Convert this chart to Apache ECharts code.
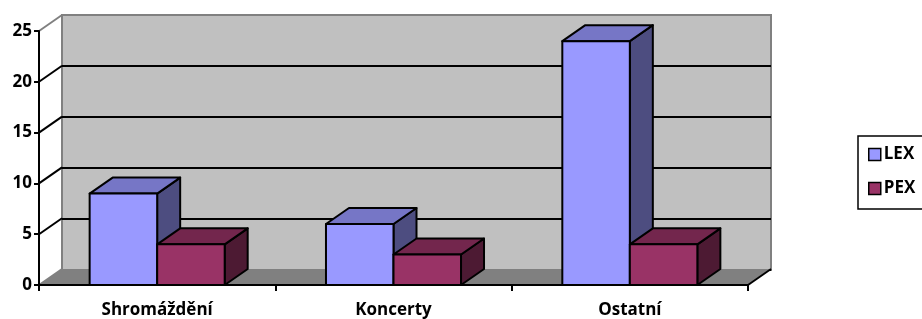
<!DOCTYPE html>
<html>
<head>
<meta charset="utf-8">
<script src="https://cdn.jsdelivr.net/npm/echarts@6/dist/echarts.min.js"></script>
<style>
html,body{margin:0;padding:0;background:#fff;}
#chart{width:922px;height:319px;}
</style>
</head>
<body>
<div id="chart"></div>
<script>
const categories = ['Shromáždění', 'Koncerty', 'Ostatní'];
const seriesNames = ['LEX', 'PEX'];
const lexValues = [9, 6, 24];
const pexValues = [4, 3, 4];
const yTicks = [0, 5, 10, 15, 20, 25];

const FONT = '"Open Sans", Lato, sans-serif';
const DX = 23, DY = 16;
const faceColors = {
  LEX: { front: '#9999FF', top: '#7676C6', side: '#4D4D80' },
  PEX: { front: '#993366', top: '#73264D', side: '#4D1A33' }
};

function barRender(sIdx, name) {
  return function (params, api) {
    const i = api.value(0);
    const v = api.value(1);
    const base = api.coord([i, 0]);
    const topPt = api.coord([i, v]);
    const cw = api.size([1, 0])[0];
    const w = cw * 0.2857;
    const x0 = base[0] - w + sIdx * w;
    const yT = topPt[1], yB = base[1];
    const c = faceColors[name];
    const st = { stroke: '#000', lineWidth: 2, lineJoin: 'round' };
    return {
      type: 'group',
      children: [
        { type: 'polygon', shape: { points: [[x0 + w, yT], [x0 + w + DX, yT - DY], [x0 + w + DX, yB - DY], [x0 + w, yB]] },
          style: Object.assign({ fill: c.side }, st) },
        { type: 'polygon', shape: { points: [[x0, yT], [x0 + DX, yT - DY], [x0 + w + DX, yT - DY], [x0 + w, yT]] },
          style: Object.assign({ fill: c.top }, st) },
        { type: 'rect', shape: { x: x0, y: yT, width: w, height: yB - yT },
          style: Object.assign({ fill: c.front }, st) }
      ]
    };
  };
}

function frameRender(params, api) {
  const cs = params.coordSys;
  const x = cs.x, y = cs.y, W = cs.width, H = cs.height;
  const yB = y + H;
  const children = [];
  children.push({ type: 'polygon', shape: { points: [[x, yB], [x + W, yB], [x + W + DX, yB - DY], [x + DX, yB - DY]] },
    style: { fill: '#808080', stroke: null } });
  children.push({ type: 'line', shape: { x1: x + W, y1: yB, x2: x + W + DX, y2: yB - DY },
    style: { stroke: '#000', lineWidth: 2 } });
  children.push({ type: 'line', shape: { x1: x, y1: yB, x2: x + DX, y2: yB - DY },
    style: { stroke: '#808080', lineWidth: 2 } });
  yTicks.forEach(function (t, k) {
    if (t === 0) return;
    const p = api.coord([0, t]);
    const last = k === yTicks.length - 1;
    children.push({ type: 'line', shape: { x1: x, y1: p[1], x2: x + DX, y2: p[1] - DY },
      style: { stroke: last ? '#808080' : '#000', lineWidth: 2 } });
  });
  return { type: 'group', children: children };
}

const chart = echarts.init(document.getElementById('chart'), null, { renderer: 'canvas' });
chart.setOption({
  animation: false,
  backgroundColor: '#ffffff',
  color: ['#9999FF', '#993366'],
  grid: [
    { left: 39, right: 174, top: 31, bottom: 33, show: false },
    { left: 39 + DX, right: 174 - DX, top: 31 - DY, bottom: 33 + DY, show: true,
      backgroundColor: '#C0C0C0', borderColor: '#808080', borderWidth: 2, z: 0 }
  ],
  xAxis: [
    { type: 'category', gridIndex: 0, data: categories, boundaryGap: true, z: 5,
      axisLine: { show: true, lineStyle: { color: '#000', width: 2 } },
      axisTick: { show: true, length: 6, lineStyle: { color: '#000', width: 2 } },
      axisLabel: { color: '#000', fontFamily: FONT, fontWeight: 'bold', fontSize: 17, margin: 17 },
      splitLine: { show: false } },
    { type: 'category', gridIndex: 1, data: categories, show: false }
  ],
  yAxis: [
    { type: 'value', gridIndex: 0, min: 0, max: 25, interval: 5, z: 5,
      axisLine: { show: true, lineStyle: { color: '#000', width: 2 } },
      axisTick: { show: true, length: 5, lineStyle: { color: '#000', width: 2 } },
      axisLabel: { color: '#000', fontFamily: FONT, fontWeight: 'bold', fontSize: 17, margin: 7 },
      splitLine: { show: false } },
    { type: 'value', gridIndex: 1, min: 0, max: 25, interval: 5, z: 0,
      axisLine: { show: false }, axisTick: { show: false }, axisLabel: { show: false },
      splitLine: { show: true, lineStyle: { color: ['#000', '#000', '#000', '#000', '#000', '#808080'], width: 2 } } }
  ],
  legend: {
    data: seriesNames,
    orient: 'vertical',
    left: 858, top: 136,
    padding: [10, 40, 12, 10],
    itemGap: 17,
    itemWidth: 12, itemHeight: 12,
    icon: 'rect',
    borderColor: '#000', borderWidth: 1.5,
    itemStyle: { borderColor: '#000', borderWidth: 1.5 },
    textStyle: { color: '#000', fontFamily: FONT, fontWeight: 'bold', fontSize: 17, padding: [0, 0, 0, -2] }
  },
  series: [
    { type: 'custom', name: 'frame', xAxisIndex: 0, yAxisIndex: 0, z: 1, silent: true,
      renderItem: frameRender, data: [[0, 0]] },
    { type: 'custom', name: 'LEX', xAxisIndex: 0, yAxisIndex: 0, z: 3,
      itemStyle: { color: '#9999FF' },
      renderItem: barRender(0, 'LEX'),
      data: lexValues.map(function (v, i) { return [i, v]; }) },
    { type: 'custom', name: 'PEX', xAxisIndex: 0, yAxisIndex: 0, z: 3,
      itemStyle: { color: '#993366' },
      renderItem: barRender(1, 'PEX'),
      data: pexValues.map(function (v, i) { return [i, v]; }) }
  ]
});
</script>
</body>
</html>
